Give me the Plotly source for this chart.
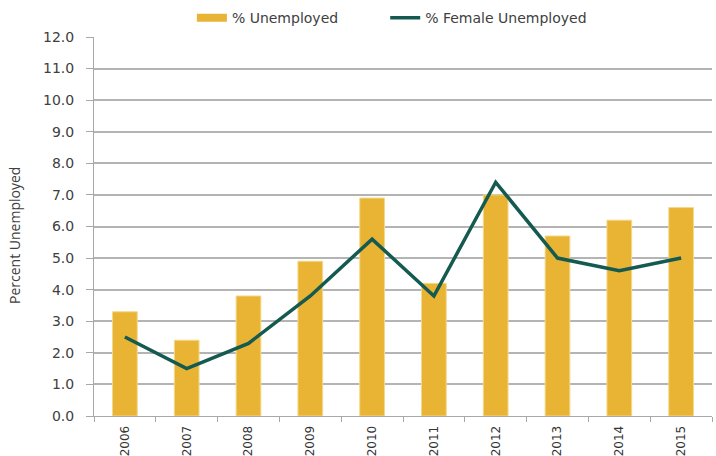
import plotly.graph_objects as go

years = ["2006", "2007", "2008", "2009", "2010", "2011", "2012", "2013", "2014", "2015"]
pct_unemployed = [3.3, 2.4, 3.8, 4.9, 6.9, 4.2, 7.0, 5.7, 6.2, 6.6]
pct_female_unemployed = [2.5, 1.5, 2.3, 3.8, 5.6, 3.8, 7.4, 5.0, 4.6, 5.0]
y_ticks = [i * 1.0 for i in range(13)]

bar_color = "#E9B334"
line_color = "#145A50"

fig = go.Figure()

fig.add_trace(go.Bar(x=years, y=pct_unemployed, name="% Unemployed", showlegend=False,
                     marker=dict(color=bar_color, line=dict(color="#F3D98C", width=1)),
                     width=0.4))
fig.add_trace(go.Scatter(x=years, y=pct_female_unemployed, mode="lines", name="% Female Unemployed",
                         showlegend=False, line=dict(color=line_color, width=3.5)))

# legend entries (wide swatches like the original), one legend each so they can be placed freely
fig.add_trace(go.Scatter(x=[None], y=[None], mode="lines", name="% Unemployed",
                         line=dict(color=bar_color, width=8), legend="legend"))
fig.add_trace(go.Scatter(x=[None], y=[None], mode="lines", name="% Female Unemployed",
                         line=dict(color=line_color, width=3.5), legend="legend2"))

leg = dict(orientation="h", xref="container", yref="container", xanchor="left",
           y=0.96, yanchor="middle", font=dict(size=14), bgcolor="rgba(0,0,0,0)")

fig.update_layout(
    width=716, height=456,
    margin=dict(l=94, r=4, t=37, b=40),
    plot_bgcolor="white", paper_bgcolor="white",
    font=dict(family="DejaVu Sans", size=14, color="#404040"),
    legend=dict(leg, x=0.268),
    legend2=dict(leg, x=0.538),
    yaxis=dict(range=[0, 12], tickvals=y_ticks, tickformat=".1f", automargin=False,
               showgrid=True, gridcolor="#B4B4B4", gridwidth=1.5,
               showline=True, linecolor="#A8A8A8", ticks="outside", ticklen=7, tickcolor="#A8A8A8",
               ticklabelstandoff=9, zeroline=False, tickfont=dict(size=14)),
    xaxis=dict(type="category", tickangle=-90, showline=True, linecolor="#A8A8A8", automargin=False,
               ticks="outside", tickson="boundaries", ticklen=5, tickcolor="#A8A8A8",
               ticklabelstandoff=4, showgrid=False, tickfont=dict(size=12, color="#333333")),
    annotations=[dict(text="Percent Unemployed", textangle=-90, showarrow=False,
                      xref="paper", yref="paper", x=(15 - 94) / 618, y=0.475,
                      xanchor="center", yanchor="middle",
                      font=dict(family="Open Sans", size=14, color="#404040"))],
)

# drop the default page margin so the figure sits at the window's corner
fig.write_html("out.html", config={"displayModeBar": False},
               post_script="document.body.style.margin='0';")
